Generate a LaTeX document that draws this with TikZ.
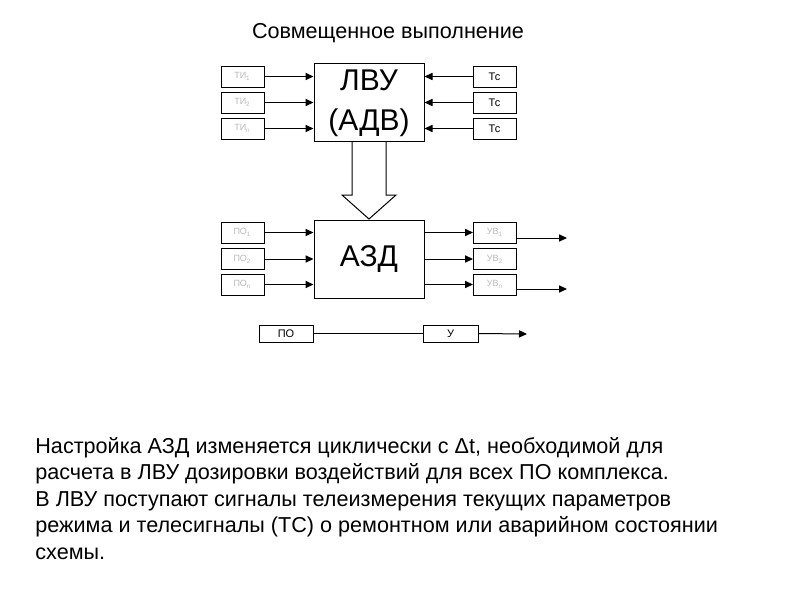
\documentclass[tikz,border=0pt]{standalone}
\usepackage{fontspec}
\setmainfont{Liberation Sans}
\usetikzlibrary{arrows.meta}
\definecolor{faint}{gray}{0.72}
\tikzset{
  x=0.5pt, y=-0.5pt,
  sbox/.style={draw, line width=0.5pt, minimum width=21.5pt, minimum height=10.5pt, inner sep=0pt, font=\fontsize{4.5}{5}\selectfont, text=faint},
  tbox/.style={sbox, text=black, font=\fontsize{5.5}{6}\selectfont},
  big/.style={draw, line width=0.5pt, minimum width=55pt, minimum height=39pt, inner sep=0pt},
  conn/.style={line width=0.5pt, -{Triangle[length=4pt,width=3.6pt]}},
  plain/.style={line width=0.5pt},
}
\begin{document}
\begin{tikzpicture}
\useasboundingbox (0,0) rectangle (800,600);
\node[anchor=base, font=\fontsize{10.8}{12}\selectfont] (title) at (388,38) {Совмещенное выполнение};
% top block
\node[big] (lvu) at (369,102) {};
\node[align=center, font=\fontsize{15}{20}\selectfont] (lvut) at (369,103) {ЛВУ\\(АДВ)};
\node[sbox] (ti1) at (242.5,76.5) {ТИ\textsubscript{1}};
\node[sbox] (ti2) at (242.5,102.5) {ТИ\textsubscript{2}};
\node[sbox] (ti3) at (242.5,128.5) {ТИ\textsubscript{n}};
\node[tbox] (tc1) at (494.5,76.5) {Тс};
\node[tbox] (tc2) at (494.5,102.5) {Тс};
\node[tbox] (tc3) at (494.5,128.5) {Тс};
\foreach \i in {1,2,3}{
  \draw[conn] (ti\i.east) -- (ti\i.east -| lvu.west);
  \draw[conn] (tc\i.west) -- (tc\i.west -| lvu.east);
}
% block arrow
\draw[line width=0.5pt] (352,141) -- (352,195) -- (342,195) -- (369,219) -- (396,195) -- (386,195) -- (386,141);
% azd block
\node[big] (azd) at (369,259) {};
\node[font=\fontsize{15}{18}\selectfont] (azdt) at (369,259) {АЗД};
\node[sbox] (po1) at (242.5,232.5) {ПО\textsubscript{1}};
\node[sbox] (po2) at (242.5,259) {ПО\textsubscript{2}};
\node[sbox] (po3) at (242.5,284.5) {ПО\textsubscript{n}};
\node[sbox] (uv1) at (495,232.5) {УВ\textsubscript{1}};
\node[sbox] (uv2) at (495,259) {УВ\textsubscript{2}};
\node[sbox] (uv3) at (495,284.5) {УВ\textsubscript{n}};
\foreach \i in {1,2,3}{
  \draw[conn] (po\i.east) -- (po\i.east -| azd.west);
  \draw[conn] (azd.east |- uv\i.west) -- (uv\i.west);
}
\coordinate (o1) at (567,238);
\coordinate (o3) at (567,289);
\draw[conn] (uv1.east |- o1) -- (o1);
\draw[conn] (uv3.east |- o3) -- (o3);
% PO - U
\node[draw, line width=0.5pt, minimum width=27pt, minimum height=8.5pt, inner sep=0pt, font=\fontsize{5.5}{6}\selectfont] (po) at (286,333.5) {ПО};
\node[draw, line width=0.5pt, minimum width=27.5pt, minimum height=8.5pt, inner sep=0pt, font=\fontsize{5.5}{6}\selectfont] (u) at (450.5,333.5) {У};
\coordinate (uo) at (527,334);
\draw[plain] (po) -- (u);
\draw[conn] (u.east) -- (uo);
% text
\node[anchor=north west, align=left, inner sep=0pt, font=\fontsize{10.8}{13.25}\selectfont] (body) at (35,437) {Настройка АЗД изменяется циклически с Δt, необходимой для\\
расчета в ЛВУ дозировки воздействий для всех ПО комплекса.\\
В ЛВУ поступают сигналы телеизмерения текущих параметров\\
режима и телесигналы (ТС) о ремонтном или аварийном состоянии\\
схемы.};
\end{tikzpicture}
\end{document}
